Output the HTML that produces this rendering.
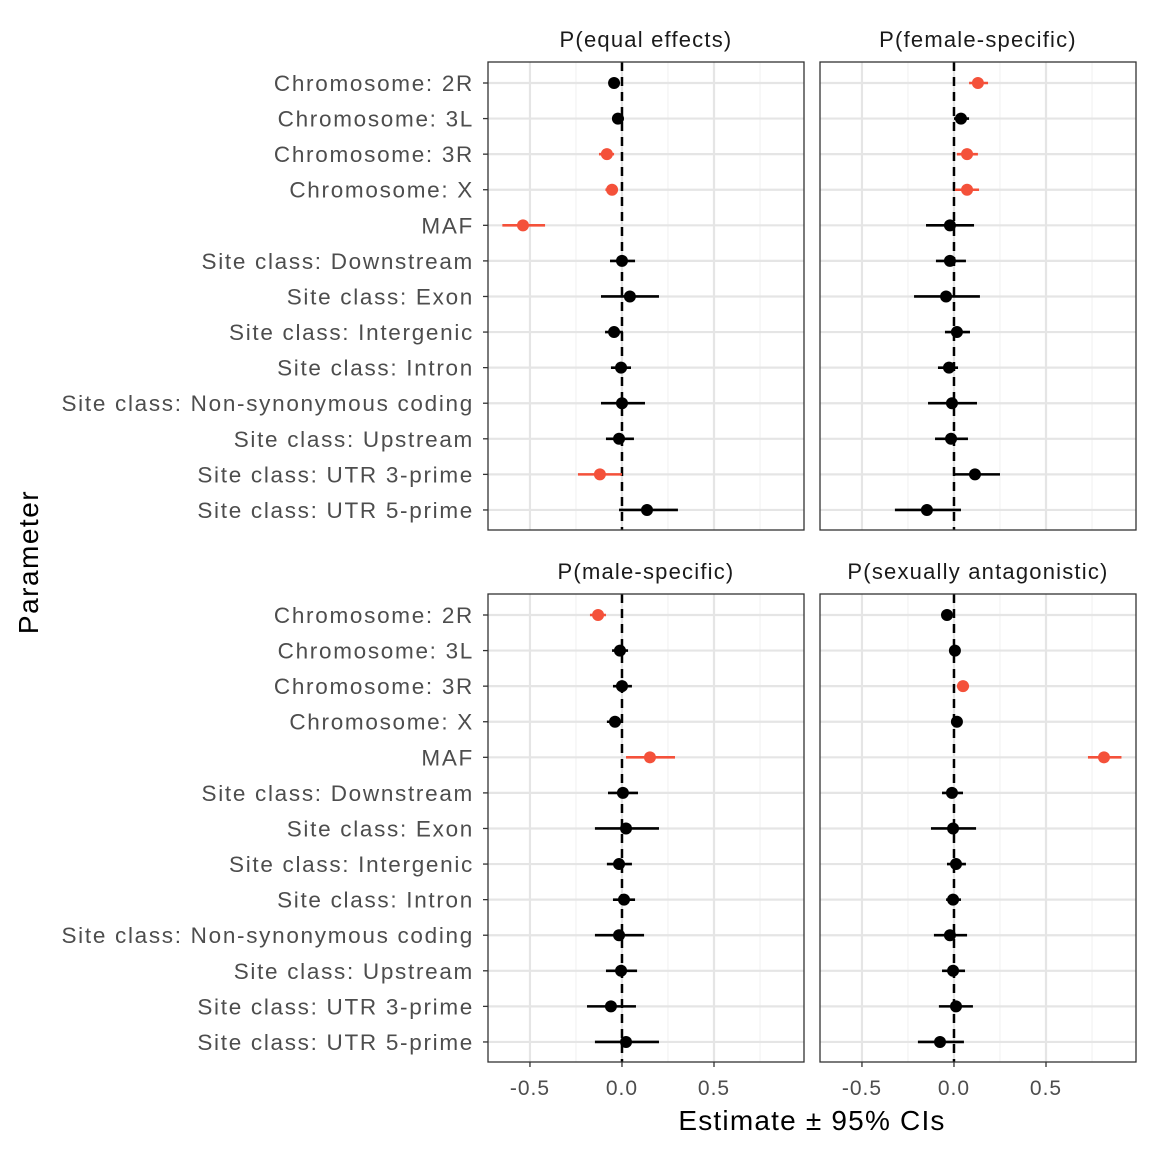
<!DOCTYPE html>
<html><head><meta charset="utf-8"><style>
body{margin:0;background:#fff;}
svg{font-family:"Liberation Sans",sans-serif;}
</style></head><body>
<svg id="c" width="1152" height="1152" viewBox="0 0 1152 1152" xmlns="http://www.w3.org/2000/svg"></svg>
<script>
const categories=["Chromosome: 2R","Chromosome: 3L","Chromosome: 3R","Chromosome: X","MAF","Site class: Downstream","Site class: Exon","Site class: Intergenic","Site class: Intron","Site class: Non-synonymous coding","Site class: Upstream","Site class: UTR 3-prime","Site class: UTR 5-prime"];
const panelTitles=["P(equal effects)","P(female-specific)","P(male-specific)","P(sexually antagonistic)"];
const xTicks=[-0.5,0,0.5];
const xTickLabels=["-0.5","0.0","0.5"];
const minorTicks=[-0.25,0.25,0.75];
const estEqual=[-0.043,-0.022,-0.082,-0.054,-0.538,0,0.043,-0.043,-0.005,0,-0.016,-0.12,0.136];
const loEqual=[-0.07,-0.04,-0.125,-0.09,-0.65,-0.065,-0.114,-0.092,-0.06,-0.114,-0.087,-0.239,-0.016];
const hiEqual=[-0.015,0.01,-0.043,-0.022,-0.418,0.071,0.201,0.005,0.049,0.125,0.065,0,0.304];
const sigEqual=[0,0,1,1,1,0,0,0,0,0,0,1,0];
const estFemale=[0.13,0.038,0.071,0.071,-0.022,-0.022,-0.043,0.016,-0.027,-0.011,-0.016,0.114,-0.147];
const loFemale=[0.082,0,0.016,0.005,-0.152,-0.098,-0.217,-0.049,-0.087,-0.141,-0.103,0,-0.321];
const hiFemale=[0.185,0.082,0.130,0.136,0.109,0.065,0.141,0.087,0.022,0.125,0.076,0.25,0.038];
const sigFemale=[1,0,1,1,0,0,0,0,0,0,0,0,0];
const estMale=[-0.13,-0.011,0,-0.038,0.152,0.005,0.022,-0.016,0.011,-0.016,-0.005,-0.06,0.022];
const loMale=[-0.174,-0.054,-0.049,-0.082,0.022,-0.076,-0.147,-0.082,-0.049,-0.147,-0.087,-0.19,-0.147];
const hiMale=[-0.087,0.033,0.054,0.005,0.288,0.087,0.201,0.054,0.071,0.12,0.082,0.076,0.201];
const sigMale=[1,0,0,0,1,0,0,0,0,0,0,0,0];
const estSA=[-0.038,0.005,0.049,0.016,0.815,-0.011,-0.005,0.011,-0.005,-0.022,-0.005,0.011,-0.076];
const loSA=[-0.065,-0.022,0.016,-0.011,0.728,-0.065,-0.125,-0.038,-0.043,-0.109,-0.065,-0.082,-0.196];
const hiSA=[-0.011,0.033,0.082,0.043,0.91,0.049,0.12,0.065,0.038,0.071,0.06,0.103,0.054];
const sigSA=[0,0,1,0,1,0,0,0,0,0,0,0,0];
const series=[[estEqual,loEqual,hiEqual,sigEqual],[estFemale,loFemale,hiFemale,sigFemale],[estMale,loMale,hiMale,sigMale],[estSA,loSA,hiSA,sigSA]];

const svg=document.getElementById('c');
const NS="http://www.w3.org/2000/svg";
function mk(tag,attrs,parent){const e=document.createElementNS(NS,tag);for(const k in attrs)e.setAttribute(k,attrs[k]);(parent||svg).appendChild(e);return e;}
const panels=[{x0:488,y0:62},{x0:820,y0:62},{x0:488,y0:594},{x0:820,y0:594}];
const PW=316,PH=468,XMIN=-0.728,XMAX=0.989;
function xs(p,v){return p.x0+(v-XMIN)/(XMAX-XMIN)*PW;}
function ys(p,i){return p.y0+21+i*35.58;}
panels.forEach((p,pi)=>{
  const g=mk('g',{});
  
  
  mk('rect',{x:p.x0,y:p.y0,width:PW,height:PH,fill:'#fff'},g);
  minorTicks.forEach(v=>mk('line',{x1:xs(p,v),x2:xs(p,v),y1:p.y0,y2:p.y0+PH,stroke:'#f2f2f2','stroke-width':1.2},g));
  xTicks.forEach(v=>mk('line',{x1:xs(p,v),x2:xs(p,v),y1:p.y0,y2:p.y0+PH,stroke:'#e5e5e5','stroke-width':2.2},g));
  categories.forEach((c,i)=>mk('line',{x1:p.x0,x2:p.x0+PW,y1:ys(p,i),y2:ys(p,i),stroke:'#e5e5e5','stroke-width':2.2},g));
  mk('line',{x1:xs(p,0),x2:xs(p,0),y1:p.y0,y2:p.y0+PH,stroke:'#000','stroke-width':2.5,'stroke-dasharray':'9,6'},g);
  const [est,lo,hi,sig]=series[pi];
  est.forEach((v,i)=>{
    const col=sig[i]?'#f4513a':'#000';
    const l=mk('line',{x1:xs(p,lo[i]),x2:xs(p,hi[i]),y1:ys(p,i),y2:ys(p,i),stroke:col,'stroke-width':2.6},g);
    
    
    const d=mk('circle',{cx:xs(p,v),cy:ys(p,i),r:6,fill:col},g);
    
    
  });
  mk('rect',{x:p.x0,y:p.y0,width:PW,height:PH,fill:'none',stroke:'#333','stroke-width':1.3},g);
  const t=mk('text',{x:p.x0+PW/2,y:p.y0-15,'text-anchor':'middle','font-size':22,'letter-spacing':1.2,fill:'#1a1a1a'},g);
  t.textContent=panelTitles[pi];
  
  
  if(pi%2===0){
    categories.forEach((c,i)=>{
      mk('line',{x1:p.x0-5,x2:p.x0,y1:ys(p,i),y2:ys(p,i),stroke:'#333','stroke-width':1.3},g);
      const lt=mk('text',{x:p.x0-14,y:ys(p,i)+8,'text-anchor':'end','font-size':22.5,'letter-spacing':1.7,fill:'#4d4d4d'},g);
      lt.textContent=c;
      
      
    });
  }
  if(pi>=2){
    xTicks.forEach((v,k)=>{
      mk('line',{x1:xs(p,v),x2:xs(p,v),y1:p.y0+PH,y2:p.y0+PH+5,stroke:'#333','stroke-width':1.3},g);
      const xt=mk('text',{x:xs(p,v),y:p.y0+PH+33,'text-anchor':'middle','font-size':21,'letter-spacing':1,fill:'#4d4d4d'},g);
      xt.textContent=xTickLabels[k];
      
      
    });
  }
});
const xa=mk('text',{x:812,y:1130,'text-anchor':'middle','font-size':28,'letter-spacing':1.2,fill:'#000'});
xa.textContent="Estimate ± 95% CIs";


const ya=mk('text',{x:38,y:562,'text-anchor':'middle','font-size':28,'letter-spacing':1.5,fill:'#000',transform:'rotate(-90 38 562)'});
ya.textContent="Parameter";


</script>
</body></html>
